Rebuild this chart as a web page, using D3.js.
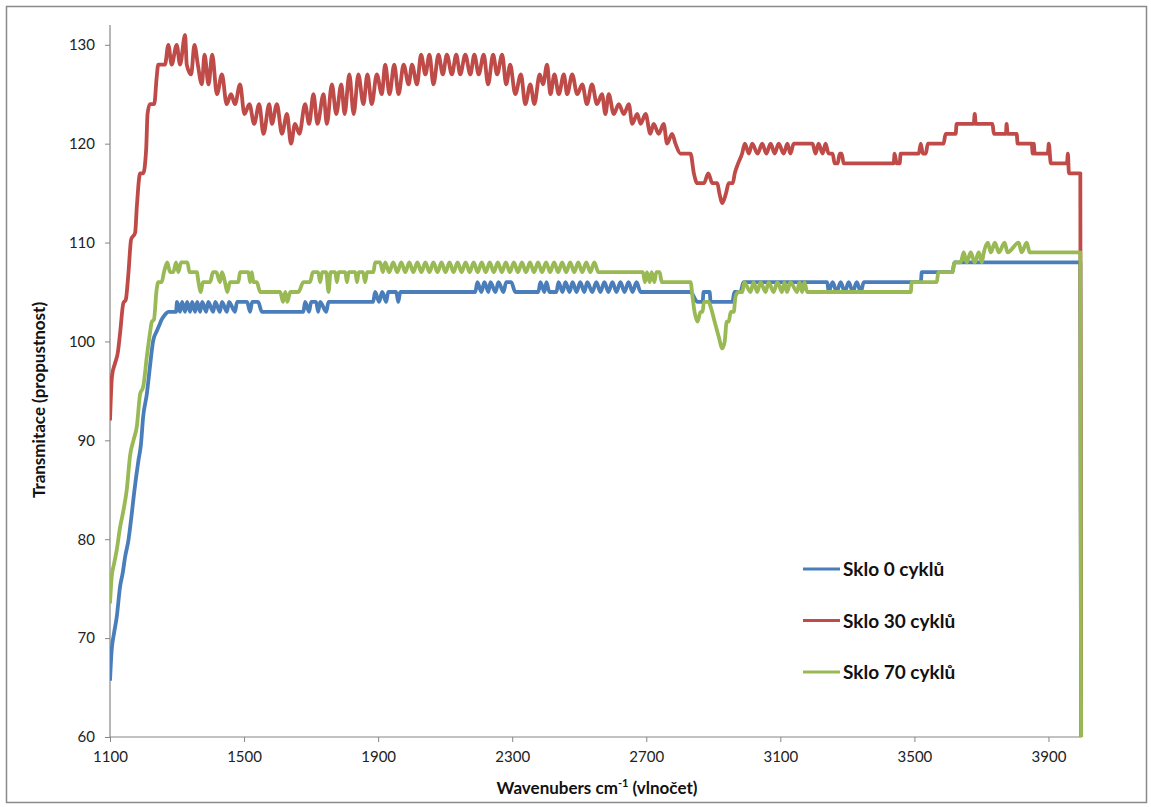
<!DOCTYPE html>
<html>
<head>
<meta charset="utf-8">
<script src="https://cdnjs.cloudflare.com/ajax/libs/d3/7.8.5/d3.min.js"></script>
<style>
  body { margin: 0; background: #fff; }
  svg { display: block; }
  .tick text { font-family: Lato, 'Open Sans', sans-serif; font-size: 15px; fill: #222; }
</style>
</head>
<body>
<svg width="1151" height="807"></svg>
<script>
// values (wavenumber cm-1 -> transmitance)
const xTicks = [1100, 1500, 1900, 2300, 2700, 3100, 3500, 3900];
const yTicks = [60, 70, 80, 90, 100, 110, 120, 130];
const seriesNames = ['Sklo 0 cyklů', 'Sklo 30 cyklů', 'Sklo 70 cyklů'];

const blueWavenumbers = [1100, 1105, 1112, 1120, 1130, 1138, 1145, 1155, 1165, 1172, 1185, 1192, 1199, 1210, 1219, 1229, 1239, 1249, 1254, 1264, 1274, 1297, 1300, 1309, 1315, 1324, 1330, 1339, 1345, 1354, 1360, 1369, 1375, 1387, 1393, 1408, 1414, 1428, 1434, 1449, 1455, 1473, 1479, 1509, 1518, 1524, 1542, 1553, 1677, 1682, 1694, 1700, 1715, 1721, 1727, 1745, 1752, 1885, 1891, 1903, 1912, 1924, 1930, 1954, 1960, 1966, 2190, 2196, 2208, 2217, 2229, 2235, 2250, 2259, 2274, 2282, 2297, 2309, 2378, 2384, 2396, 2402, 2411, 2432, 2438, 2450, 2459, 2471, 2480, 2492, 2503, 2515, 2524, 2539, 2551, 2563, 2575, 2587, 2599, 2611, 2623, 2635, 2647, 2659, 2671, 2683, 2832, 2853, 2868, 2871, 2889, 2892, 2957, 2963, 2981, 2990, 3240, 3244, 3256, 3268, 3280, 3292, 3304, 3316, 3328, 3340, 3349, 3519, 3522, 3614, 3619, 3995, 4000];
const blueValues = [65.7, 68.8, 70.5, 72.1, 75.2, 76.6, 78.2, 79.9, 82.6, 84.7, 88, 89.5, 92.4, 94.7, 97.4, 100.1, 101, 101.8, 102.2, 102.7, 103, 103, 104, 103, 104, 103, 104, 103, 104, 103, 104, 103, 104, 103, 104, 103, 104, 103, 104, 103, 104, 103, 104, 104, 103, 104, 104, 103, 103, 104, 103, 104, 104, 103, 104, 103, 104, 104, 105, 104, 105, 104, 105, 105, 104, 105, 105, 106, 105, 106, 105, 106, 105, 106, 105, 106, 106, 105, 105, 106, 105, 106, 105, 105, 106, 105, 106, 105, 106, 105, 106, 105, 106, 105, 106, 105, 106, 105, 106, 105, 106, 105, 106, 105, 106, 105, 105, 104, 104, 105, 105, 104, 104, 105, 105, 106, 106, 105, 106, 105, 106, 105, 106, 105, 106, 105, 106, 106, 107, 107, 108, 108, 0];

const redWavenumbers = [1100, 1106, 1115, 1123, 1130, 1140, 1147, 1155, 1163, 1175, 1180, 1190, 1199, 1208, 1212, 1219, 1232, 1239, 1244, 1264, 1274, 1284, 1299, 1309, 1324, 1329, 1342, 1352, 1362, 1374, 1382, 1394, 1405, 1419, 1434, 1448, 1461, 1473, 1488, 1501, 1516, 1530, 1545, 1558, 1575, 1583, 1598, 1613, 1628, 1640, 1652, 1665, 1682, 1694, 1707, 1719, 1737, 1747, 1762, 1775, 1790, 1800, 1814, 1827, 1841, 1856, 1868, 1881, 1896, 1911, 1921, 1934, 1948, 1961, 1976, 1991, 2001, 2016, 2028, 2041, 2053, 2065, 2080, 2093, 2105, 2120, 2133, 2145, 2160, 2175, 2187, 2200, 2215, 2228, 2243, 2255, 2270, 2282, 2294, 2309, 2326, 2339, 2354, 2366, 2382, 2392, 2404, 2414, 2426, 2439, 2454, 2464, 2479, 2494, 2509, 2523, 2538, 2553, 2568, 2578, 2588, 2603, 2618, 2633, 2648, 2658, 2673, 2683, 2698, 2712, 2722, 2737, 2752, 2762, 2777, 2787, 2802, 2832, 2842, 2852, 2872, 2885, 2897, 2912, 2918, 2927, 2938, 2946, 2958, 2964, 2974, 2986, 2994, 3006, 3016, 3032, 3046, 3058, 3071, 3083, 3095, 3110, 3121, 3130, 3140, 3196, 3205, 3214, 3226, 3235, 3244, 3256, 3262, 3271, 3277, 3283, 3289, 3438, 3441, 3447, 3456, 3459, 3513, 3519, 3525, 3534, 3540, 3587, 3593, 3623, 3626, 3677, 3680, 3683, 3733, 3737, 3773, 3775, 3778, 3805, 3808, 3850, 3853, 3856, 3859, 3898, 3901, 3907, 3916, 3955, 3958, 3961, 3995, 4000];
const redValues = [92, 96.5, 97.8, 98.8, 100.8, 103.9, 104.2, 106.9, 110.3, 111, 113.6, 117, 117, 119.5, 123, 124, 124, 126.6, 128, 128, 130, 128, 130, 128, 131, 128, 127, 130, 128, 126, 129, 126, 129, 125, 127, 124, 125, 124, 126, 123, 124, 122, 124, 121, 124, 122, 124, 121, 123, 120, 122, 121, 124, 122, 125, 122, 125, 122, 126, 123, 126, 123, 127, 123, 127, 124, 127, 124, 127, 125, 128, 125, 128, 125, 128, 126, 128, 126, 129, 127, 129, 126, 129, 127, 129, 127, 129, 127, 129, 127, 129, 127, 129, 126, 129, 127, 129, 126, 128, 125, 127, 124, 126, 124, 127, 126, 128, 125, 127, 125, 127, 125, 127, 125, 126, 124, 126, 124, 125, 123, 125, 123, 124, 123, 124, 122, 123, 122, 123, 121, 122, 121, 122, 120, 121, 120, 119, 119, 117, 116, 116, 117, 116, 116, 115, 114, 115, 116, 116, 117, 118, 119, 120, 119, 120, 119, 120, 119, 120, 119, 120, 119, 120, 119, 120, 120, 119, 120, 119, 120, 119, 119, 118, 118, 119, 119, 118, 118, 119, 118, 118, 119, 119, 120, 119, 119, 120, 120, 121, 121, 122, 122, 123, 122, 122, 121, 121, 122, 121, 121, 120, 120, 119, 120, 119, 119, 120, 118, 118, 118, 119, 117, 117, 0];

const greenWavenumbers = [1100, 1105, 1112, 1120, 1130, 1140, 1150, 1160, 1170, 1180, 1190, 1199, 1210, 1219, 1225, 1231, 1239, 1244, 1254, 1261, 1271, 1279, 1289, 1297, 1304, 1312, 1331, 1337, 1359, 1364, 1371, 1377, 1399, 1407, 1417, 1428, 1434, 1443, 1450, 1458, 1483, 1488, 1513, 1518, 1523, 1528, 1538, 1548, 1608, 1616, 1623, 1629, 1638, 1662, 1677, 1697, 1705, 1721, 1727, 1733, 1745, 1752, 1758, 1772, 1777, 1782, 1802, 1807, 1812, 1832, 1837, 1842, 1855, 1861, 1867, 1886, 1891, 1906, 1914, 1921, 1933, 1945, 1957, 1969, 1981, 1993, 2005, 2017, 2029, 2041, 2053, 2065, 2077, 2089, 2101, 2113, 2125, 2137, 2149, 2161, 2173, 2185, 2197, 2209, 2221, 2233, 2245, 2257, 2269, 2281, 2293, 2305, 2317, 2329, 2341, 2353, 2365, 2377, 2389, 2401, 2413, 2425, 2437, 2449, 2461, 2473, 2485, 2497, 2509, 2521, 2533, 2545, 2557, 2690, 2696, 2702, 2710, 2716, 2724, 2730, 2740, 2746, 2832, 2838, 2844, 2853, 2862, 2868, 2872, 2886, 2892, 2904, 2916, 2927, 2934, 2940, 2946, 2952, 2961, 2966, 2975, 2987, 2992, 3011, 3020, 3031, 3041, 3056, 3065, 3080, 3091, 3105, 3112, 3120, 3130, 3150, 3157, 3165, 3172, 3180, 3489, 3492, 3567, 3571, 3614, 3619, 3638, 3647, 3656, 3668, 3680, 3692, 3701, 3707, 3719, 3728, 3740, 3752, 3769, 3778, 3811, 3820, 3835, 3844, 3995, 4000];
const greenValues = [73.5, 76.2, 77.5, 78.9, 81.2, 82.9, 85, 88.5, 90, 91.4, 94.7, 95.4, 98.5, 100.8, 102, 102.2, 105.2, 106, 106, 107, 108, 107, 107, 108, 107, 108, 108, 107, 107, 106, 105, 106, 106, 107, 107, 106, 107, 106, 105, 106, 106, 107, 107, 106, 107, 106, 106, 105, 105, 104, 105, 104, 105, 105, 106, 106, 107, 107, 106, 107, 107, 105, 107, 107, 106, 107, 107, 106, 107, 107, 106, 107, 107, 106, 107, 107, 108, 108, 107, 108, 107, 108, 107, 108, 107, 108, 107, 108, 107, 108, 107, 108, 107, 108, 107, 108, 107, 108, 107, 108, 107, 108, 107, 108, 107, 108, 107, 108, 107, 108, 107, 108, 107, 108, 107, 108, 107, 108, 107, 108, 107, 108, 107, 108, 107, 108, 107, 108, 107, 108, 107, 108, 107, 107, 106, 107, 106, 107, 106, 107, 107, 106, 106, 104.5, 103, 102, 103, 103, 104, 104, 103.5, 102, 100.5, 99.3, 100, 102, 102, 103, 103, 104.5, 105, 105, 106, 105, 106, 105, 106, 105, 106, 105, 106, 105, 106, 105, 106, 105, 106, 105, 106, 105, 105, 106, 106, 107, 107, 108, 108, 109, 108, 109, 108, 109, 108, 109, 110, 109, 110, 109, 110, 109, 110, 109, 110, 109, 109, 0];

const colors = ['#4A7EBB', '#BE4B48', '#98B954'];

const svg = d3.select('svg');
const margin = { top: 25, right: 69, bottom: 70, left: 110 };
const width = +svg.attr('width');
const height = +svg.attr('height');
const x0 = margin.left;
const x1 = width - margin.right;
const y0 = margin.top;
const y1 = height - margin.bottom;

// chart frame
svg.append('rect')
  .attr('x', 6.5).attr('y', 6.5)
  .attr('width', width - 11).attr('height', height - 11)
  .attr('fill', '#fff')
  .attr('stroke', '#8a8a8a')
  .attr('stroke-width', 1.5);

const x = d3.scaleLinear().domain([1100, 4000]).range([x0, x1]);
const y = d3.scaleLinear().domain([60, 132]).range([y1, y0]);

svg.append('clipPath').attr('id', 'plot-clip')
  .append('rect')
  .attr('x', x0).attr('y', y0)
  .attr('width', x1 - x0 + 2).attr('height', y1 - y0);

// axes
const yAxis = svg.append('g')
  .attr('transform', `translate(${x0},0)`)
  .call(d3.axisLeft(y).tickValues(yTicks).tickSize(5).tickPadding(10));
const xAxis = svg.append('g')
  .attr('transform', `translate(0,${y1})`)
  .call(d3.axisBottom(x).tickValues(xTicks).tickFormat(d3.format('d')).tickSize(5).tickPadding(9));
[yAxis, xAxis].forEach((a) => {
  a.selectAll('path,line').attr('stroke', '#868686');
  a.select('.domain').attr('stroke-width', 1.2);
});
// plain axis lines, no end caps
xAxis.select('.domain').attr('d', `M${x0},0H${x1}`);
yAxis.select('.domain').attr('d', `M0,${y0}V${y1}`);

const line = d3.line()
  .x(d => x(d[0]))
  .y(d => y(d[1]))
  .curve(d3.curveMonotoneX);

const series = [
  d3.zip(blueWavenumbers, blueValues),
  d3.zip(redWavenumbers, redValues),
  d3.zip(greenWavenumbers, greenValues)
];

const plot = svg.append('g').attr('clip-path', 'url(#plot-clip)');
series.forEach((s, i) => {
  plot.append('path')
    .datum(s)
    .attr('fill', 'none')
    .attr('stroke', colors[i])
    .attr('stroke-width', 3.8)
    .attr('stroke-linejoin', 'round')
    .attr('d', line);
});

// legend
const legend = svg.append('g').attr('transform', 'translate(803,569)');
seriesNames.forEach((name, i) => {
  const row = legend.append('g').attr('transform', `translate(0,${i * 51.5})`);
  row.append('line')
    .attr('x1', 0).attr('x2', 37)
    .attr('stroke', colors[i])
    .attr('stroke-width', 3);
  row.append('text')
    .attr('x', 40).attr('y', 7)
    .attr('font-family', 'Lato, sans-serif')
    .attr('font-weight', 'bold')
    .attr('font-size', 19)
    .attr('fill', '#111')
    .text(name);
});

// axis titles
const xTitle = svg.append('text')
  .attr('x', 597)
  .attr('y', 794)
  .attr('text-anchor', 'middle')
  .attr('font-family', 'Lato, sans-serif')
  .attr('font-weight', 'bold')
  .attr('font-size', 17)
  .attr('fill', '#111');
xTitle.append('tspan').text('Wavenubers cm');
xTitle.append('tspan').attr('dy', -7).attr('font-size', 11).text('-1');
xTitle.append('tspan').attr('dy', 7).text(' (vlnočet)');

svg.append('text')
  .attr('transform', 'translate(45,400) rotate(-90)')
  .attr('text-anchor', 'middle')
  .attr('font-family', 'Lato, sans-serif')
  .attr('font-weight', 'bold')
  .attr('font-size', 17)
  .attr('fill', '#111')
  .text('Transmitace (propustnost)');
</script>
</body>
</html>
